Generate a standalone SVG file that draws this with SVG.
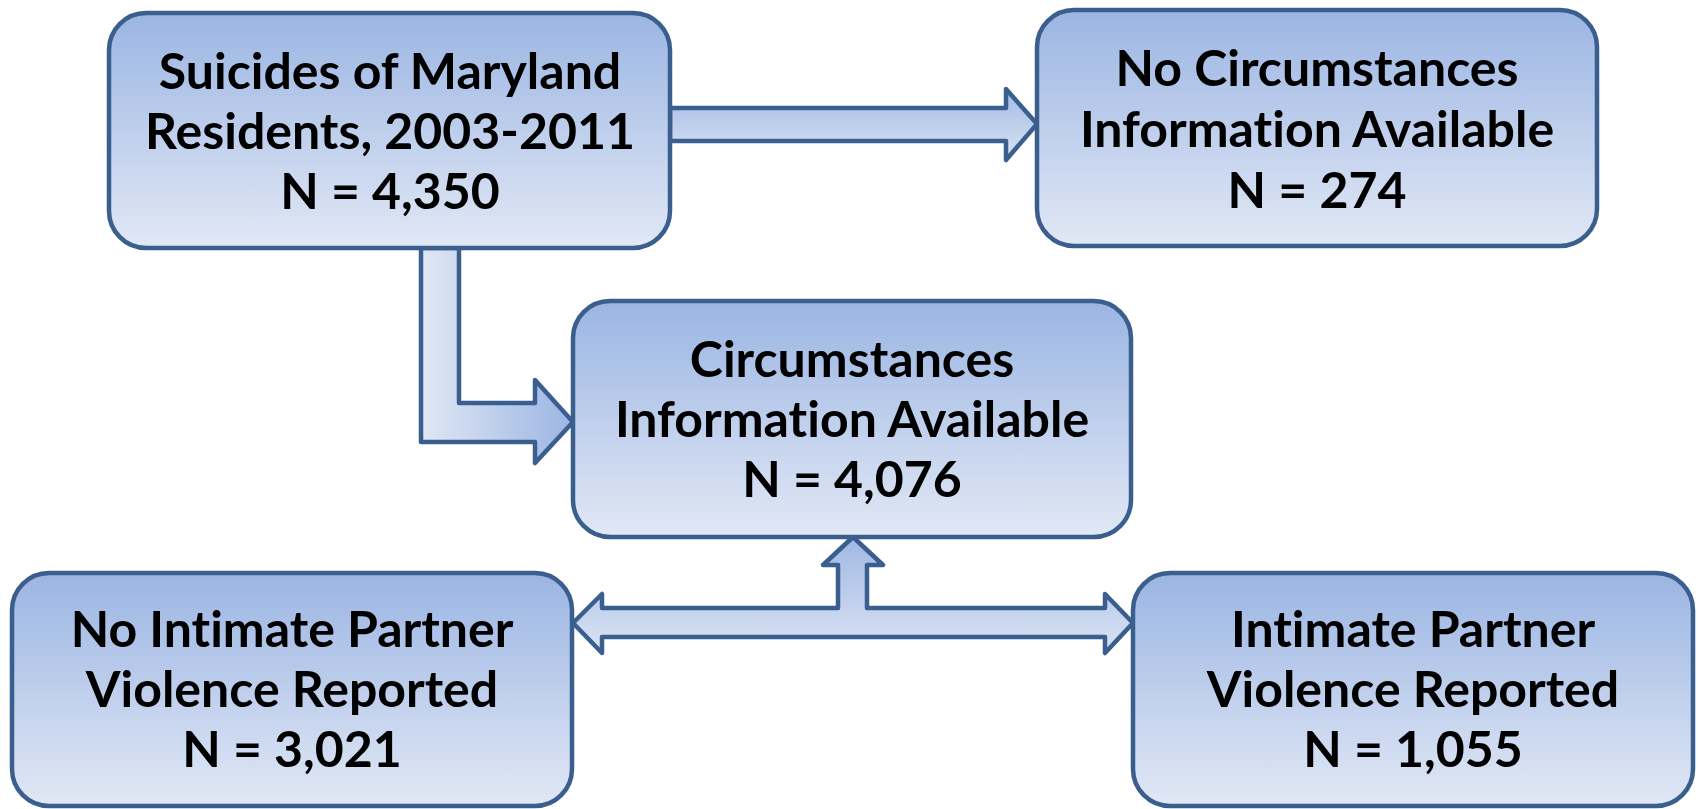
<svg xmlns="http://www.w3.org/2000/svg" width="1698" height="809" viewBox="0 0 1698 809">
<defs>
<linearGradient id="boxg" x1="0" y1="0" x2="0" y2="1">
<stop offset="0" stop-color="#9bb5e3"/>
<stop offset="1" stop-color="#e1e8f5"/>
</linearGradient>
<linearGradient id="hg" x1="0" y1="0" x2="0" y2="1">
<stop offset="0" stop-color="#a3bce6"/>
<stop offset="1" stop-color="#d9e2f3"/>
</linearGradient>
<linearGradient id="lg" gradientUnits="userSpaceOnUse" x1="421" y1="0" x2="573" y2="0">
<stop offset="0" stop-color="#e0e7f4"/>
<stop offset="1" stop-color="#9bb5e3"/>
</linearGradient>
<linearGradient id="tg" gradientUnits="userSpaceOnUse" x1="0" y1="537" x2="0" y2="653">
<stop offset="0" stop-color="#9fb8e4"/>
<stop offset="1" stop-color="#dbe3f3"/>
</linearGradient>
<style>
.box{fill:url(#boxg);stroke:#3a5f8e;stroke-width:4.5}
.con{stroke:#3a5f8e;stroke-width:4.5;stroke-linejoin:round}
text{font-family:Lato,"Open Sans","Liberation Sans",sans-serif;font-weight:bold;font-size:50px;fill:#000;text-anchor:middle;font-variant-ligatures:none;font-feature-settings:"liga" 0}
</style>
</defs>
<g id="connectors">
<polygon class="con" fill="url(#hg)" points="670,108 1006,108 1006,89 1037,124 1006,160 1006,141 670,141"/>
<polygon class="con" fill="url(#lg)" points="421,248 459,248 459,403 535,403 535,380 573,422 535,463 535,442 421,442"/>
<polygon class="con" fill="url(#tg)" points="573,623 602,594 602,608 838,608 838,565 823,565 853,537 883,565 867,565 867,608 1105,608 1105,594 1133,623 1105,653 1105,637 602,637 602,653"/>
</g>
<g id="node-suicides">
<rect class="box" x="109" y="13" width="561" height="235" rx="37"/>
<text x="390" y="89">Suicides of Maryland</text>
<text x="390" y="149">Residents, 2003-2011</text>
<text x="390" y="209">N = 4,350</text>
</g>
<g id="node-no-circumstances">
<rect class="box" x="1037" y="10" width="560" height="236" rx="37"/>
<text x="1317" y="86">No Circumstances</text>
<text x="1317" y="147">Information Available</text>
<text x="1317" y="208">N = 274</text>
</g>
<g id="node-circumstances">
<rect class="box" x="573" y="301" width="558" height="236" rx="37"/>
<text x="852" y="377">Circumstances</text>
<text x="852" y="437">Information Available</text>
<text x="852" y="497">N = 4,076</text>
</g>
<g id="node-no-ipv">
<rect class="box" x="12" y="573" width="560" height="233" rx="37"/>
<text x="292" y="647">No Intimate Partner</text>
<text x="292" y="707">Violence Reported</text>
<text x="292" y="767">N = 3,021</text>
</g>
<g id="node-ipv">
<rect class="box" x="1133" y="573" width="560" height="233" rx="37"/>
<text x="1413" y="647">Intimate Partner</text>
<text x="1413" y="707">Violence Reported</text>
<text x="1413" y="767">N = 1,055</text>
</g>
</svg>
